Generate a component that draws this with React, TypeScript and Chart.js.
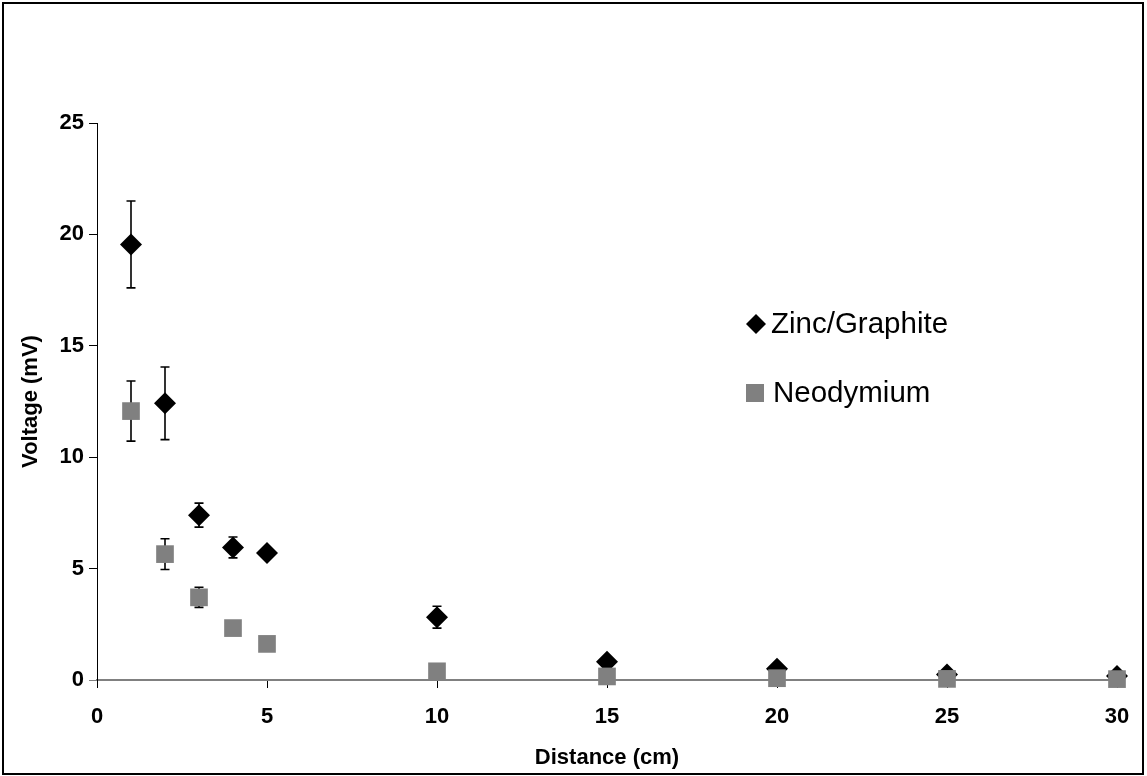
import React, { useEffect, useRef } from 'react';
import { Chart, registerables } from 'chart.js';

Chart.register(...registerables);

// ---- data ----
const distances = [1, 2, 3, 4, 5, 10, 15, 20, 25, 30];
const zincValues = [19.55, 12.42, 7.4, 5.95, 5.7, 2.82, 0.82, 0.5, 0.25, 0.18];
const zincErrors = [1.95, 1.63, 0.54, 0.47, 0.2, 0.49, 0.1, 0.06, 0.05, 0.05];
const neoValues = [12.07, 5.65, 3.71, 2.33, 1.62, 0.39, 0.16, 0.08, 0.05, 0.04];
const neoErrors = [1.35, 0.69, 0.45, 0.2, 0.15, 0.08, 0.05, 0.03, 0.02, 0.02];
const seriesLabels = ['Zinc/Graphite', 'Neodymium'];
const xAxisTitle = 'Distance (cm)';
const yAxisTitle = 'Voltage (mV)';

const FONT = '"Liberation Sans", Arial, Helvetica, sans-serif';

const errorBarPlugin = {
  id: 'errorBars',
  beforeDatasetsDraw(chart: any) {
    const ctx = chart.ctx;
    const yScale = chart.scales.y;
    ctx.save();
    ctx.strokeStyle = '#000';
    ctx.lineWidth = 1.6;
    chart.data.datasets.forEach((ds: any, di: number) => {
      const meta = chart.getDatasetMeta(di);
      const errs: number[] = ds.errors || [];
      meta.data.forEach((pt: any, i: number) => {
        const v = ds.data[i].y;
        const e = errs[i] || 0;
        const x = pt.x;
        const yt = yScale.getPixelForValue(v + e);
        const yb = yScale.getPixelForValue(Math.max(0, v - e));
        ctx.beginPath();
        ctx.moveTo(x, yt);
        ctx.lineTo(x, yb);
        ctx.moveTo(x - 4.5, yt);
        ctx.lineTo(x + 4.5, yt);
        ctx.moveTo(x - 4.5, yb);
        ctx.lineTo(x + 4.5, yb);
        ctx.stroke();
      });
    });
    ctx.restore();
  },
};

const customLegendPlugin = {
  id: 'customLegend',
  afterDraw(chart: any) {
    const ctx = chart.ctx;
    ctx.save();
    ctx.font = `29.5px ${FONT}`;
    ctx.textBaseline = 'middle';
    ctx.textAlign = 'left';
    // diamond
    const dx = 756, dy = 324, r = 10;
    ctx.fillStyle = '#000';
    ctx.beginPath();
    ctx.moveTo(dx - r, dy);
    ctx.lineTo(dx, dy - r);
    ctx.lineTo(dx + r, dy);
    ctx.lineTo(dx, dy + r);
    ctx.closePath();
    ctx.fill();
    ctx.fillText(seriesLabels[0], 771, dy + 1);
    // square
    const sx = 755, sy = 393, h = 9;
    ctx.fillStyle = '#808080';
    ctx.fillRect(sx - h, sy - h, 2 * h, 2 * h);
    ctx.fillStyle = '#000';
    ctx.fillText(seriesLabels[1], 773, sy + 1);
    // outer frame
    ctx.strokeStyle = '#000';
    ctx.lineWidth = 2;
    ctx.strokeRect(3, 3, 1140, 771);
    ctx.restore();
  },
};

export default function App() {
  const canvasRef = useRef<HTMLCanvasElement | null>(null);

  useEffect(() => {
    if (!canvasRef.current) return;
    const chart = new Chart(canvasRef.current, {
      type: 'scatter',
      data: {
        datasets: [
          {
            label: seriesLabels[0],
            data: distances.map((d, i) => ({ x: d, y: zincValues[i] })),
            errors: zincErrors,
            pointStyle: 'rectRot',
            pointRadius: 11,
            pointHoverRadius: 11,
            backgroundColor: '#000',
            borderColor: '#000',
            pointBorderWidth: 0,
            clip: false,
            order: 1,
          } as any,
          {
            label: seriesLabels[1],
            data: distances.map((d, i) => ({ x: d, y: neoValues[i] })),
            errors: neoErrors,
            pointStyle: 'rect',
            pointRadius: 12.5,
            pointHoverRadius: 12.5,
            backgroundColor: '#808080',
            borderColor: '#808080',
            pointBorderWidth: 0,
            clip: false,
            order: 0,
          } as any,
        ],
      },
      options: {
        responsive: false,
        animation: false,
        events: [],
        layout: { padding: { top: 123, right: 30, left: 0, bottom: 0 } },
        plugins: {
          legend: { display: false },
          tooltip: { enabled: false },
        },
        scales: {
          x: {
            type: 'linear',
            min: 0,
            max: 30,
            afterFit(scale: any) {
              scale.height = 96;
            },
            ticks: {
              stepSize: 5,
              color: '#000',
              padding: 16,
              font: { family: FONT, size: 22, weight: 'bold' },
              maxRotation: 0,
            },
            grid: {
              drawOnChartArea: false,
              drawTicks: true,
              tickLength: 8,
              color: '#000',
              lineWidth: 1,
            },
            border: { display: true, color: '#808080', width: 2 },
            title: {
              display: true,
              text: xAxisTitle,
              color: '#000',
              font: { family: FONT, size: 22, weight: 'bold' },
              padding: { top: 0, bottom: 5 },
            },
          },
          y: {
            type: 'linear',
            min: 0,
            max: 25,
            afterFit(scale: any) {
              scale.width = 97;
            },
            ticks: {
              stepSize: 5,
              color: '#000',
              padding: 5,
              font: { family: FONT, size: 22, weight: 'bold' },
            },
            grid: {
              drawOnChartArea: false,
              drawTicks: true,
              tickLength: 8,
              color: (c: any) => (c.tick && c.tick.value === 0 ? '#808080' : '#000'),
              lineWidth: 1,
            },
            border: { display: true, color: '#000', width: 1 },
            title: {
              display: true,
              text: yAxisTitle,
              color: '#000',
              font: { family: FONT, size: 22, weight: 'bold' },
              padding: { top: 18, bottom: 0 },
            },
          },
        },
      } as any,
      plugins: [errorBarPlugin, customLegendPlugin],
    });
    return () => chart.destroy();
  }, []);

  return (
    <div style={{ position: 'absolute', left: 0, top: 0, width: 1147, height: 776, background: '#fff' }}>
      <canvas ref={canvasRef} width={1147} height={776} style={{ display: 'block' }} />
    </div>
  );
}
